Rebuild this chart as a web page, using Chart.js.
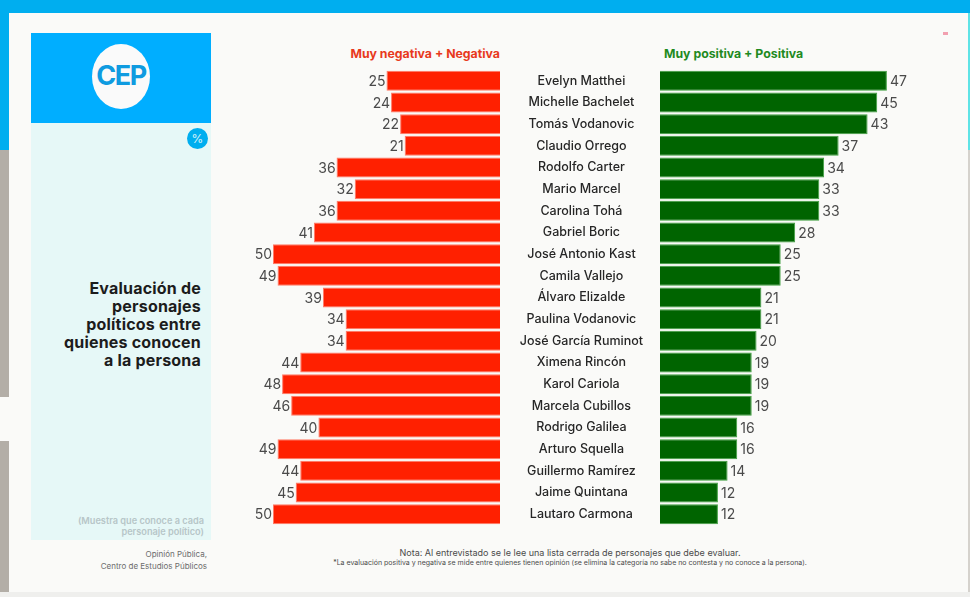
<!DOCTYPE html>
<html lang="es">
<head>
<meta charset="utf-8">
<title>Evaluación de personajes políticos</title>
<script src="https://cdn.jsdelivr.net/npm/chart.js@4"></script>
<style>
html, body { margin: 0; padding: 0; }
body { width: 970px; height: 597px; position: relative; overflow: hidden; background: #fafaf8; font-family: Inter, sans-serif; }
.abs { position: absolute; }
.txt { position: absolute; white-space: nowrap; }
.right { text-align: right; }
canvas { display: block; }
</style>
</head>
<body>
<div class="abs" style="left:0;top:0;width:970px;height:13px;background:#00aeef"></div>
<div class="abs" style="left:0;top:0;width:9px;height:150px;background:#00aeef"></div>
<div class="abs" style="left:0;top:150px;width:9px;height:247px;background:#b3aea7"></div>
<div class="abs" style="left:0;top:441px;width:9px;height:156px;background:#b3aea7"></div>
<div class="abs" style="left:968px;top:13px;width:2px;height:137px;background:#5fe3e6"></div>
<div class="abs" style="left:968px;top:150px;width:2px;height:447px;background:#d5d2cd"></div>
<div class="abs" style="left:0;top:592px;width:970px;height:5px;background:#efefed"></div>
<div class="abs" style="left:943px;top:32px;width:5px;height:3px;background:#f2a0b0"></div>

<div class="abs" style="left:31px;top:123px;width:180px;height:417px;background:#e6f8f7"></div>
<div class="abs" style="left:31px;top:33px;width:180px;height:90px;background:#00aeff"></div>
<div class="abs" style="left:92px;top:44px;width:58px;height:65px;border-radius:50%;background:#fafafa"></div>
<div class="txt" style="left:92px;top:60px;width:58px;text-align:center;font-size:27px;line-height:32px;font-weight:700;letter-spacing:-1.5px;color:#0f9be0">CEP</div>
<div class="abs" style="left:187px;top:128px;width:21px;height:21px;border-radius:50%;background:#00aeef"></div>
<div class="txt" style="left:187px;top:128px;width:21px;text-align:center;font-size:12px;line-height:21px;color:#d8f4fb">%</div>

<div class="txt right" style="right:769px;top:279px;font-size:16px;line-height:18px;font-weight:700;letter-spacing:0.2px;color:#1c1c1c">Evaluación de<br>personajes<br>políticos entre<br>quienes conocen<br>a la persona</div>
<div class="txt right" style="right:766px;top:515px;font-size:9.2px;line-height:11px;font-weight:600;color:#b7c6c8">(Muestra que conoce a cada<br>personaje político)</div>
<div class="txt right" style="right:763px;top:548px;font-size:8px;line-height:12px;color:#6c6c6c">Opinión Pública,<br>Centro de Estudios Públicos</div>

<div class="txt right" style="right:470px;top:47px;font-size:12.3px;line-height:14px;font-weight:700;color:#e8391c">Muy negativa + Negativa</div>
<div class="txt" style="left:664px;top:47px;font-size:12.3px;line-height:14px;font-weight:700;color:#1f8a1f">Muy positiva + Positiva</div>

<div class="abs" style="left:200px;top:70px;width:300px;height:455px"><canvas id="chartNeg"></canvas></div>
<div class="abs" style="left:500px;top:70px;width:440px;height:455px"><canvas id="chartPos"></canvas></div>

<div class="txt" style="left:320px;width:500px;top:547px;text-align:center;font-size:9px;line-height:12px;color:#4a4a4a">Nota: Al entrevistado se le lee una lista cerrada de personajes que debe evaluar.</div>
<div class="txt" style="left:320px;width:500px;top:558px;text-align:center;font-size:7px;line-height:10px;color:#4a4a4a">*La evaluación positiva y negativa se mide entre quienes tienen opinión (se elimina la categoría no sabe no contesta y no conoce a la persona).</div>

<script>
var categories = [
	'Evelyn Matthei', 'Michelle Bachelet', 'Tomás Vodanovic', 'Claudio Orrego',
	'Rodolfo Carter', 'Mario Marcel', 'Carolina Tohá', 'Gabriel Boric',
	'José Antonio Kast', 'Camila Vallejo', 'Álvaro Elizalde', 'Paulina Vodanovic',
	'José García Ruminot', 'Ximena Rincón', 'Karol Cariola', 'Marcela Cubillos',
	'Rodrigo Galilea', 'Arturo Squella', 'Guillermo Ramírez', 'Jaime Quintana',
	'Lautaro Carmona'
];
var negativa = [25, 24, 22, 21, 36, 32, 36, 41, 50, 49, 39, 34, 34, 44, 48, 46, 40, 49, 44, 45, 50];
var positiva = [47, 45, 43, 37, 34, 33, 33, 28, 25, 25, 21, 21, 20, 19, 19, 19, 16, 16, 14, 12, 12];

// numbers at the end of each bar
var barValues = {
	id: 'barValues',
	afterDatasetsDraw: function (chart) {
		var ctx = chart.ctx;
		var bars = chart.getDatasetMeta(0).data;
		var data = chart.data.datasets[0].data;
		var reversed = chart.options.scales.x.reverse;
		ctx.save();
		ctx.font = '14px Inter, sans-serif';
		ctx.fillStyle = '#4a4a4a';
		ctx.textBaseline = 'middle';
		ctx.textAlign = reversed ? 'right' : 'left';
		for (var i = 0; i < bars.length; i++) {
			ctx.fillText(data[i], bars[i].x + (reversed ? -1 : 3), bars[i].y + 1);
		}
		ctx.restore();
	}
};

function barDataset(values, color, edge) {
	return {
		data: values,
		backgroundColor: color,
		borderColor: edge,
		borderWidth: 1,
		categoryPercentage: 1,
		barPercentage: 0.92
	};
}

var common = {
	responsive: true,
	maintainAspectRatio: false,
	animation: false,
	indexAxis: 'y',
	layout: { padding: 0 },
	plugins: { legend: { display: false }, tooltip: { enabled: false } }
};

new Chart('chartNeg', {
	type: 'bar',
	data: { labels: categories, datasets: [barDataset(negativa, '#ff2000', '#ff7a66')] },
	options: Object.assign({}, common, {
		scales: {
			x: { display: false, reverse: true, min: 0, max: 66.08 },
			y: { display: false }
		}
	}),
	plugins: [barValues]
});

new Chart('chartPos', {
	type: 'bar',
	data: { labels: categories, datasets: [barDataset(positiva, '#006400', '#3f9f3f')] },
	options: Object.assign({}, common, {
		scales: {
			x: { display: false, min: 0, max: 58 },
			y: {
				afterFit: function (scale) {
					scale.width = 160;
					// tick padding also pads the axis ends, the rows need the full height
					scale.paddingTop = 0;
					scale.paddingBottom = 0;
				},
				border: { display: false },
				grid: { display: false, drawTicks: false },
				ticks: {
					autoSkip: false,
					crossAlign: 'center',
					padding: 17,
					color: '#262626',
					font: { family: 'Inter, sans-serif', size: 12.5, weight: '500' }
				}
			}
		}
	}),
	plugins: [barValues]
});
</script>
</body>
</html>
